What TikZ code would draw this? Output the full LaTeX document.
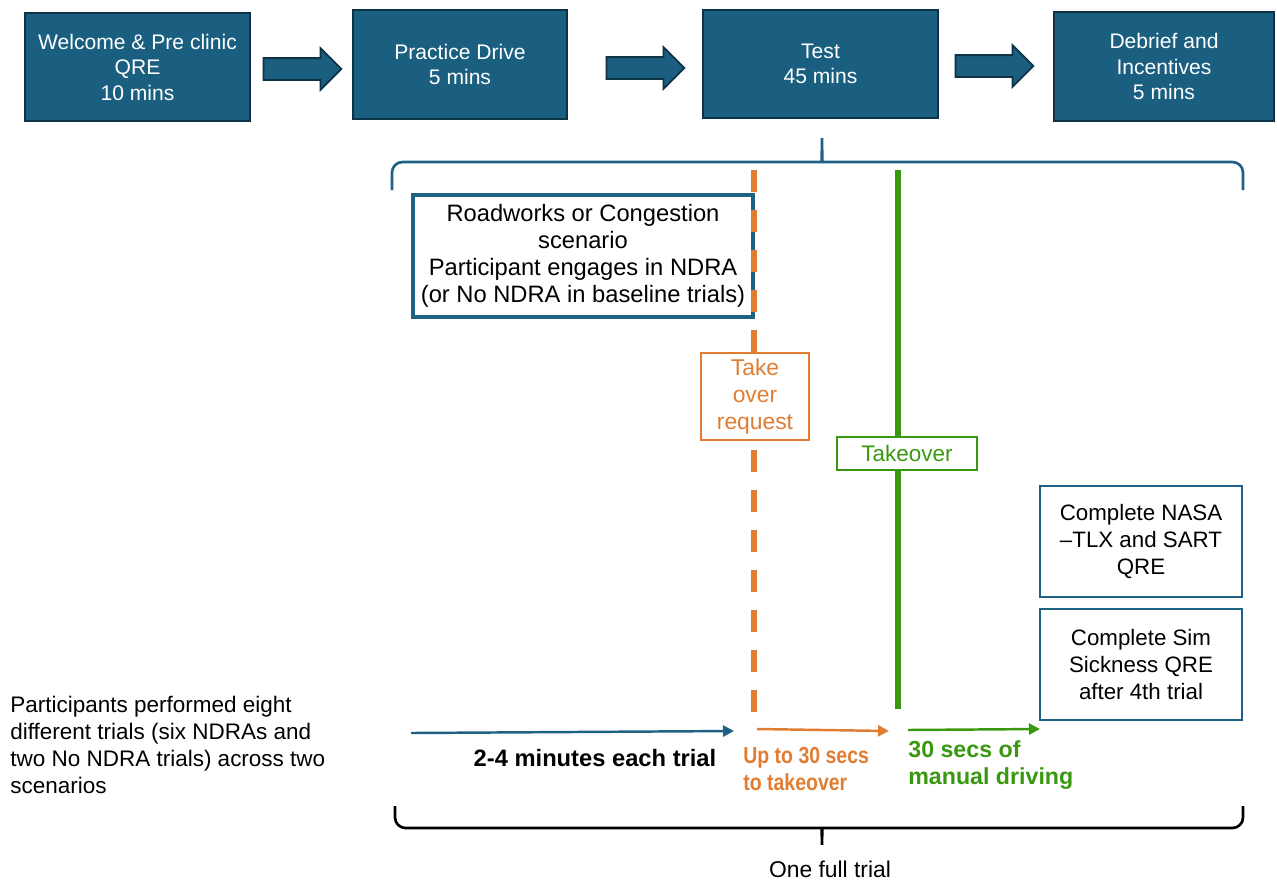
\documentclass[tikz,border=0pt]{standalone}
\usepackage{fontspec}
\setmainfont{Liberation Sans}
\newfontfamily\narrowsans[FakeStretch=0.84]{Liberation Sans}
\usepackage{xcolor}
\usepackage{tikz}
\usetikzlibrary{arrows.meta}
\usetikzlibrary{positioning}
\usetikzlibrary{shapes.arrows}
\usetikzlibrary{calc}
\definecolor{stageblue}{RGB}{26,95,128}
\definecolor{stageedge}{RGB}{14,50,70}
\definecolor{lineblue}{RGB}{31,96,133}
\definecolor{tor_orange}{RGB}{224,125,50}
\definecolor{tk_green}{RGB}{58,152,16}
\tikzset{
  boxtext/.style = {align=center, inner sep=0pt, text centered,
    font=\fontsize{12}{14.5}\selectfont},
  stage_b/.style = {boxtext, rectangle, white, draw=stageedge,
    fill=stageblue, line width=1.2pt},% phase box, top row
  step_arrow/.style = {single arrow, draw=stageedge, fill=stageblue,
    line width=1pt, inner xsep=0pt, inner ysep=0.2cm, minimum height=1.56cm,
    single arrow head extend=0.2cm},% block arrow
  scen_b/.style = {boxtext, rectangle, draw=lineblue, fill=white,
    line width=2.4pt, font=\fontsize{13.5}{15.3}\selectfont},% scenario box
  tor_b/.style = {boxtext, rectangle, tor_orange, draw=tor_orange,
    fill=white, line width=1.5pt, font=\fontsize{13}{15.3}\selectfont},
  tk_b/.style = {boxtext, rectangle, tk_green, draw=tk_green,
    fill=white, line width=1.5pt, font=\fontsize{12.8}{15}\selectfont},
  qre_b/.style = {boxtext, rectangle, draw=lineblue, fill=white,
    line width=1.2pt, font=\fontsize{12.7}{15.3}\selectfont},% questionnaire
  phase_l/.style = {inner sep=0pt, align=left,
    font=\fontsize{13.2}{15}\selectfont\bfseries},% label under arrow
  time_a/.style = {line width=1.4pt,
    -{Triangle[length=0.22cm,width=0.22cm]}}
}

\begin{document}
\begin{tikzpicture}[x=0.02cm,y=-0.02cm]
\useasboundingbox (0,0) rectangle (1277,883);

% top row
\node [stage_b, minimum width=4.5cm, minimum height=2.16cm] (wel) at (137.5,67)
  {Welcome \& Pre clinic\\QRE\\10 mins};
\node [stage_b, minimum width=4.28cm, minimum height=2.18cm] (prac) at (460,64.5)
  {Practice Drive\\5 mins};
\node [stage_b, minimum width=4.7cm, minimum height=2.16cm] (test) at (820.5,64)
  {Test\\45 mins};
\node [stage_b, minimum width=4.4cm, minimum height=2.18cm] (deb) at (1164,66.5)
  {Debrief and\\Incentives\\5 mins};
\node [step_arrow] (a1) at (297,69) {};
\node [step_arrow] (a2) at (640,68) {};
\node [step_arrow] (a3) at (989,66) {};

% brace under Test
\draw [lineblue, line width=1.5pt, rounded corners=6pt]
  (392,190) -- (392,162) -- (812,162) .. controls (821,162) and (822,150) .. (822,132)
  .. controls (822,150) and (823,162) .. (832,162) -- (1243,162) -- (1243,190);

\node [scen_b, minimum width=6.8cm, minimum height=2.44cm] (scen) at (583,256)
  {Roadworks or Congestion\\scenario\\Participant engages in NDRA\\(or No NDRA in baseline trials)};

% take over request / takeover lines
\coordinate (or_t) at (754,170);
\coordinate (or_b) at (754,712);
\coordinate (gr_t) at (898,170);
\coordinate (gr_b) at (898,709);
\draw [tor_orange, line width=3.2pt, dash pattern=on 0.44cm off 0.36cm] (or_t) -- (or_b);
\draw [tk_green, line width=3.2pt] (gr_t) -- (gr_b);
\node [tor_b, minimum width=2.16cm, minimum height=1.74cm] (tor) at (755,396.5)
  {Take\\over\\request};
\node [tk_b, minimum width=2.8cm, minimum height=0.66cm] (tk) at (907,453.5)
  {Takeover};

% questionnaires
\node [qre_b, minimum width=4.04cm, minimum height=2.22cm] (nasa) at (1141,541.5)
  {Complete NASA\\–TLX and SART\\QRE};
\node [qre_b, minimum width=4.04cm, minimum height=2.22cm] (sim) at (1141,664.5)
  {Complete Sim\\Sickness QRE\\after 4th trial};

\node [anchor=west, inner sep=0pt, align=left, font=\fontsize{12.8}{15.3}\selectfont]
  (note) at (10,745)
  {Participants performed eight\\different trials (six NDRAs and\\two No NDRA trials) across two\\scenarios};

% time line
\coordinate (b0) at (411,733);
\coordinate (b1) at (734,731);
\coordinate (o0) at (757,729);
\coordinate (o1) at (889,731);
\coordinate (g0) at (908,730);
\coordinate (g1) at (1040,729);
\draw [time_a, lineblue] (b0) -- (b1);
\draw [time_a, tor_orange] (o0) -- (o1);
\draw [time_a, tk_green] (g0) -- (g1);
\node [phase_l, font=\fontsize{13.5}{15}\selectfont\bfseries] (lb) at (595,758) {2-4 minutes each trial};
\node [phase_l, tor_orange, anchor=west, font=\narrowsans\fontsize{13.2}{15}\selectfont\bfseries] (lo) at (743,769)
  {Up to 30 secs\\to takeover};
\node [phase_l, tk_green, anchor=west] (lg) at (908,765) {30 secs of\\manual driving};

% brace for one trial
\draw [black, line width=1.5pt, rounded corners=6pt]
  (395,806) -- (395,828) -- (812,828) .. controls (821,828) and (822,838) .. (822,851)
  .. controls (822,838) and (823,828) .. (832,828) -- (1243,828) -- (1243,806);
\node [inner sep=0pt, font=\fontsize{13}{15}\selectfont] (full) at (830,869) {One full trial};
\end{tikzpicture}
\end{document}
